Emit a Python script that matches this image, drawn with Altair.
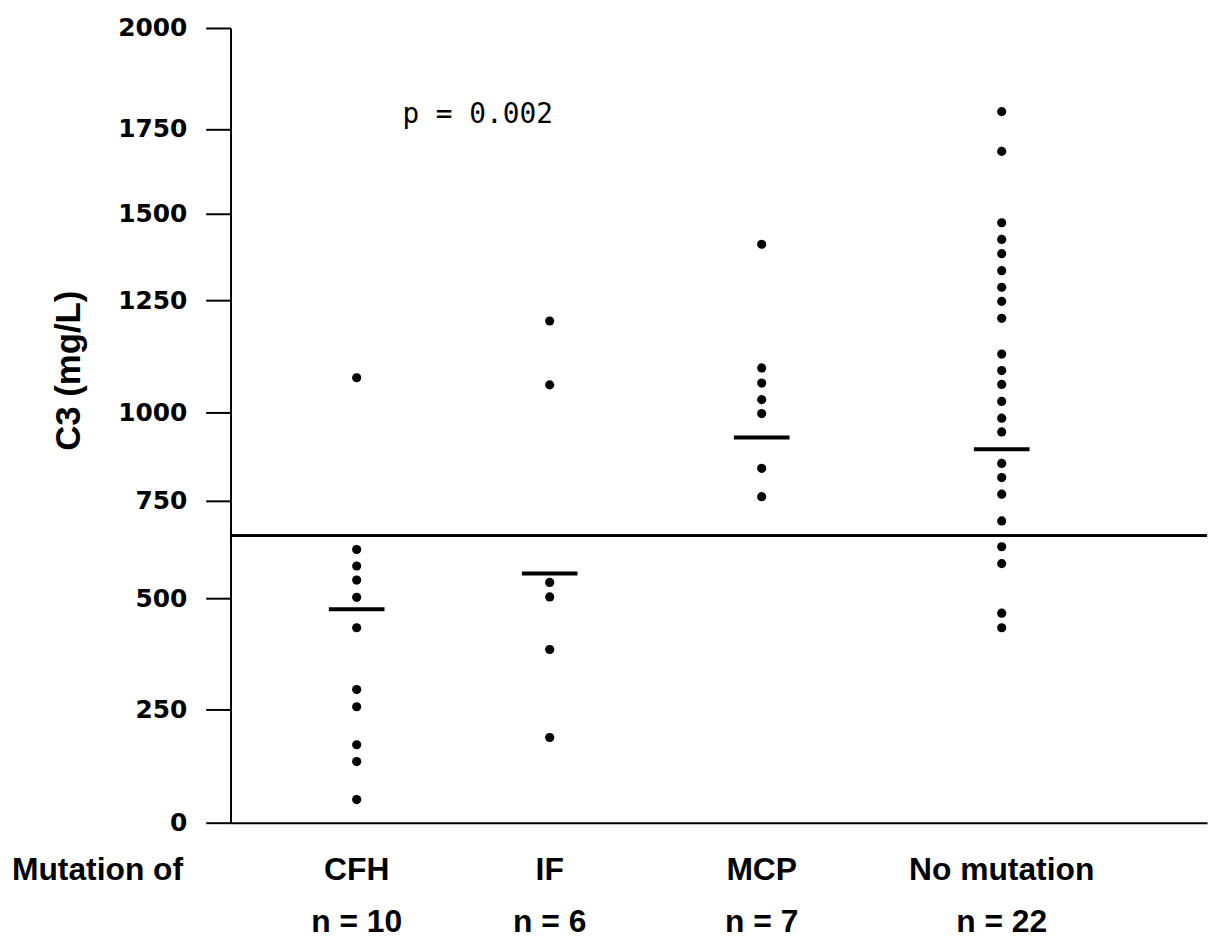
import altair as alt
import pandas as pd

# ---- data ----
categories = ["CFH", "IF", "MCP", "No mutation"]
n_labels = ["n = 10", "n = 6", "n = 7", "n = 22"]
cfh = [1077, 625, 583, 547, 503, 434, 295, 256, 172, 135, 51]
if_vals = [1204, 1061, 541, 504, 385, 188]
mcp = [1412, 1099, 1065, 1028, 996, 841, 761]
no_mut = [1793, 1684, 1474, 1426, 1385, 1336, 1288, 1248, 1210, 1130, 1093,
          1062, 1024, 983, 944, 855, 815, 768, 698, 632, 589, 467, 434]
medians = [476, 564, 928, 895]
threshold = 660
y_ticks = [0, 250, 500, 750, 1000, 1250, 1500, 1750, 2000]
p_text = "p = 0.002"
x_prefix = "Mutation of"
y_title = "C3 (mg/L)"

groups = [cfh, if_vals, mcp, no_mut]
pts = pd.DataFrame(
    [{"idx": i, "group": categories[i], "value": v} for i, g in enumerate(groups) for v in g]
)
cats = pd.DataFrame({"idx": list(range(len(categories))), "group": categories,
                     "n": n_labels, "median": medians})

W, H = 983, 800
# the original figure's axis has uneven tick spacing: piecewise scale
y_scale = alt.Scale(domain=y_ticks,
                    range=[800, 686, 574.3, 475.7, 386.7, 274.3, 187, 101.7, 0],
                    nice=False, zero=False)
x_scale = alt.Scale(domain=[-1, 0, 1, 2, 3, 4],
                    range=[0, 127, 321.3, 534.7, 776.3, W],
                    nice=False, zero=False)

x_axis = alt.Axis(domain=True, domainColor="black", domainWidth=2, ticks=False,
                  labels=False, grid=False, title=None)
y_axis = alt.Axis(values=y_ticks, format="d", tickSize=25, tickWidth=2, tickColor="black",
                  domainWidth=2, domainColor="black", labelFont="DejaVu Sans",
                  labelFontWeight="bold", labelFontSize=25, labelColor="black",
                  labelPadding=19, grid=False, title=None, labelFlush=False,
                  labelOverlap=False)

points = alt.Chart(pts).mark_circle(size=85, color="black", opacity=1).encode(
    x=alt.X("idx:Q", scale=x_scale, axis=x_axis),
    y=alt.Y("value:Q", scale=y_scale, axis=y_axis),
)

med = alt.Chart(cats).mark_tick(orient="horizontal", size=56, thickness=4,
                                color="black", opacity=1).encode(
    x=alt.X("idx:Q", scale=x_scale),
    y=alt.Y("median:Q", scale=y_scale),
)

rule = alt.Chart(cats).mark_rule(color="black", strokeWidth=2.5).encode(
    y=alt.datum(threshold),
)

lab_font = "Liberation Sans"
lab_size = 32
cat_text = alt.Chart(cats).mark_text(font=lab_font, fontWeight="bold", fontSize=lab_size,
                                     baseline="middle", align="center", color="black").encode(
    x=alt.X("idx:Q", scale=x_scale),
    y=alt.value(848),
    text="group:N",
)
n_text = alt.Chart(cats).mark_text(font=lab_font, fontWeight="bold", fontSize=lab_size,
                                   baseline="middle", align="center", color="black").encode(
    x=alt.X("idx:Q", scale=x_scale),
    y=alt.value(900),
    text="n:N",
)
prefix = alt.Chart(cats.head(1)).mark_text(font=lab_font, fontWeight="bold", fontSize=lab_size,
                                           baseline="middle", align="left", color="black",
                                           text=x_prefix).encode(
    x=alt.value(-220), y=alt.value(848),
)
ytitle = alt.Chart(cats.head(1)).mark_text(font="Liberation Sans", fontWeight="bold", fontSize=35,
                                           baseline="middle", align="center", angle=270,
                                           color="black", text=y_title).encode(
    x=alt.value(-163), y=alt.value(345),
)
ptext = alt.Chart(cats.head(1)).mark_text(font="DejaVu Sans Mono", fontSize=28,
                                          baseline="middle", align="left", color="black",
                                          text=p_text).encode(
    x=alt.value(173), y=alt.value(88),
)

chart = alt.layer(rule, points, med, cat_text, n_text, prefix, ytitle, ptext).properties(
    width=W, height=H,
    autosize=alt.AutoSizeParams(type="none"),
    padding={"left": 224, "top": 17, "right": 5, "bottom": 121},
    background="white",
).configure_view(stroke=None)

chart.save("out.html", embed_options={"renderer": "svg", "actions": False})
